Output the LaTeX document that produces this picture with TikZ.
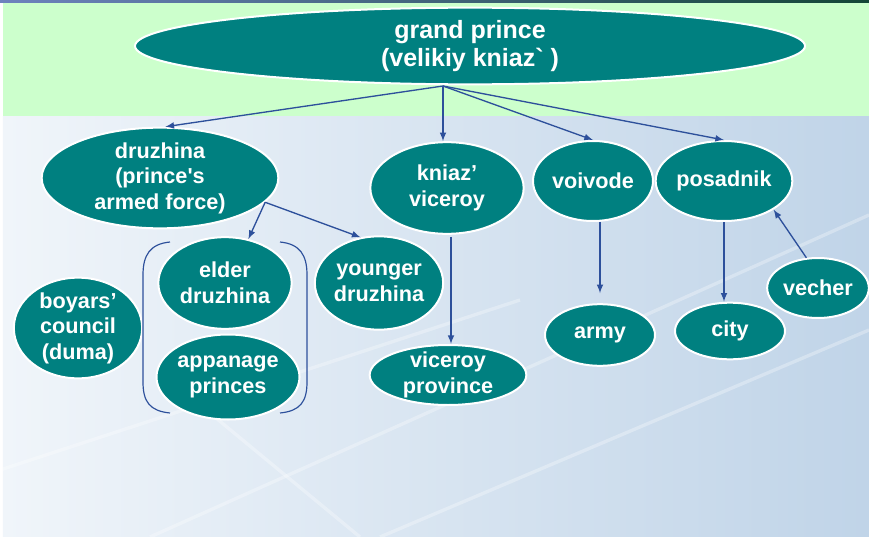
\documentclass[tikz,border=0pt]{standalone}
\usepackage{fontspec}
\setmainfont{Liberation Sans}
\usetikzlibrary{shapes.geometric, arrows}

\definecolor{tealfill}{RGB}{0,128,128}
\definecolor{linkblue}{RGB}{45,80,155}
\definecolor{greenband}{RGB}{204,255,204}
\definecolor{bgleft}{RGB}{240,245,250}
\definecolor{bgright}{RGB}{192,212,232}
\definecolor{stripleft}{RGB}{110,130,190}
\definecolor{stripright}{RGB}{20,70,55}

\begin{document}
\begin{tikzpicture}[x=0.6pt, y=-0.6pt, >=latex,
    oval/.style={ellipse, draw=white, line width=1.2pt, fill=tealfill,
      text=white, align=center, inner sep=0pt,
      font=\bfseries\fontsize{13}{15.3}\selectfont},
    link/.style={->, draw=linkblue, line width=0.8pt},
    bracket/.style={draw=linkblue, line width=0.7pt}]

  \useasboundingbox (0,0) rectangle (869,537);

  % background
  \fill[white] (0,0) rectangle (869,537);
  \shade[left color=bgleft, right color=bgright] (3,116) rectangle (869,537);
  \foreach \a/\b/\c/\d in {150/537/869/215, 380/537/869/330, 0/470/520/300, 360/537/170/380}
    \draw[white, opacity=0.3, line width=2pt] (\a,\b) -- (\c,\d);
  \fill[greenband] (3,3) rectangle (869,116);
  \shade[left color=stripleft, right color=stripright] (0,0) rectangle (869,3);

  % nodes
  \node[oval, minimum width=402pt, minimum height=46pt,
    font=\bfseries\fontsize{15}{17}\selectfont] (grand) at (470,46)
    {grand prince\\(velikiy kniaz\textasciigrave\ )};
  \node[oval, minimum width=142pt, minimum height=60pt] (druzhina) at (160,178)
    {druzhina\\(prince\textquotesingle s\\armed force)};
  \node[oval, minimum width=92pt, minimum height=55pt] (kniaz) at (447,188)
    {kniaz’\\viceroy};
  \node[oval, minimum width=72pt, minimum height=48pt] (voivode) at (593,181) {voivode};
  \node[oval, minimum width=82pt, minimum height=48pt] (posadnik) at (724,181) {posadnik};
  \node[oval, minimum width=80pt, minimum height=55pt] (elder) at (225,283)
    {elder\\druzhina};
  \node[oval, minimum width=84pt, minimum height=51pt] (appanage) at (228,377)
    {appanage\\princes};
  \node[oval, minimum width=77pt, minimum height=60pt] (boyars) at (78,328)
    {boyars’\\council\\(duma)};
  \node[oval, minimum width=77pt, minimum height=56pt] (younger) at (379,283)
    {younger\\druzhina};
  \node[oval, minimum width=94pt, minimum height=36pt, inner ysep=-3pt] (province) at (448,375)
    {viceroy\\province};
  \node[oval, minimum width=66pt, minimum height=37pt] (army) at (600,335) {army};
  \node[oval, minimum width=66pt, minimum height=34pt] (city) at (730,331) {city};
  \node[oval, minimum width=61pt, minimum height=36pt] (vecher) at (818,288) {vecher};

  % connectors
  \coordinate (hub) at (443,86);
  \draw[link] (hub) -- (druzhina.84);
  \draw[link] (hub) -- (hub |- kniaz.north);
  \draw[link] (hub) -- (voivode.north);
  \draw[link] (hub) -- (posadnik.north);
  \draw[link] (druzhina.-13) -- (elder.62);
  \draw[link] (druzhina.-13) -- (younger.112);
  \draw[link] (kniaz.south) ++(4,2) coordinate (ks) -- (ks |- province.north);
  \draw[link, shorten >=6pt] (army.north |- voivode.south) -- (army.north);
  \draw[link] (posadnik.south) -- (posadnik.south |- city.north);
  \draw[link] (vecher.111) -- (posadnik.-30);

  % brackets round elder druzhina and appanage princes
  \draw[bracket] (170,242) .. controls (150,244) and (143,255) .. (143,275)
    -- (143,382) .. controls (143,402) and (150,411) .. (170,413);
  \draw[bracket] (280,242) .. controls (300,244) and (307,255) .. (307,275)
    -- (307,382) .. controls (307,402) and (300,411) .. (280,413);
\end{tikzpicture}
\end{document}
